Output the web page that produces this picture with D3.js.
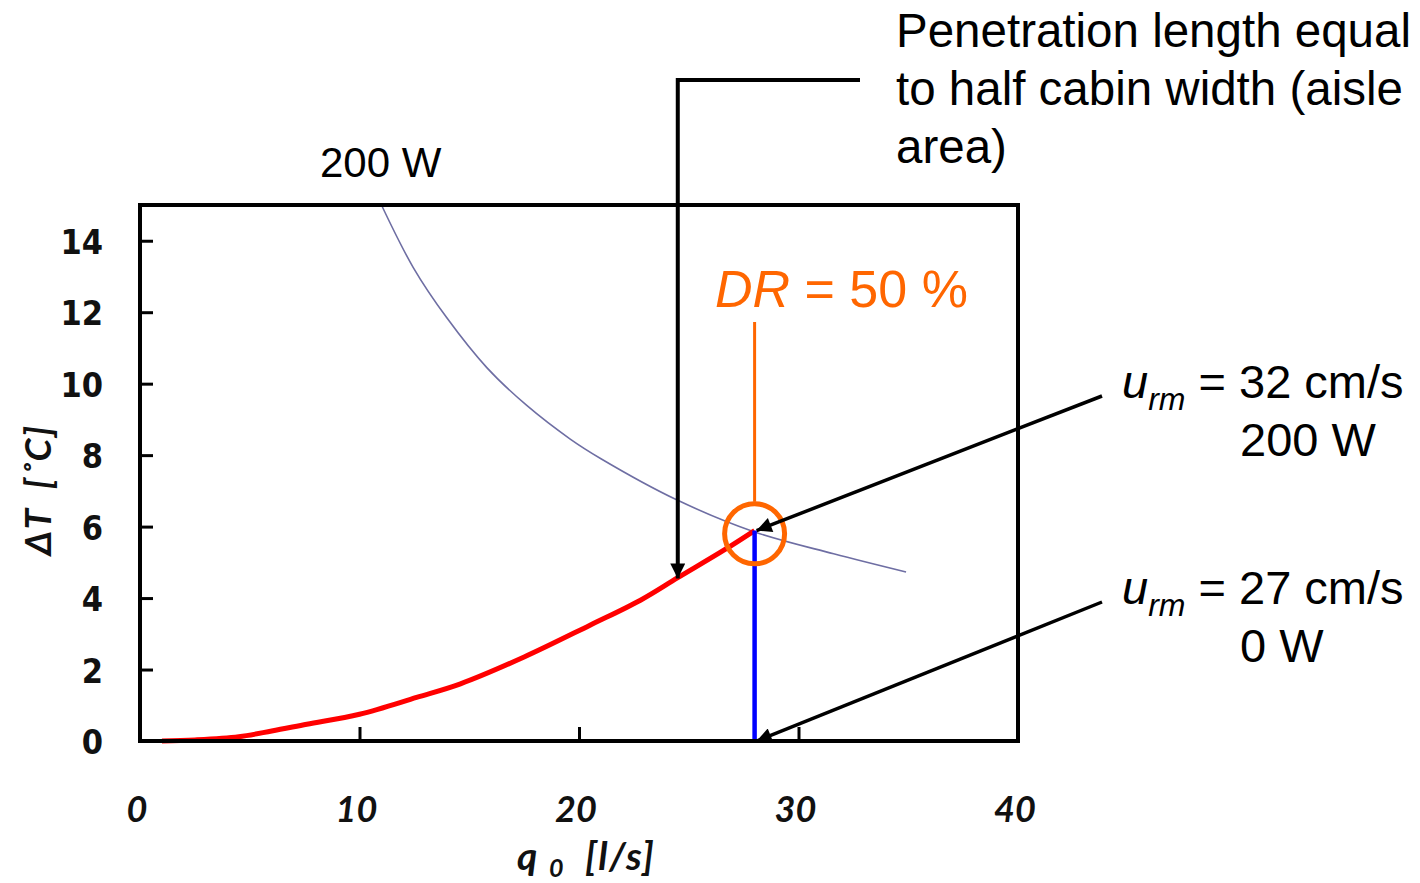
<!DOCTYPE html>
<html>
<head>
<meta charset="utf-8">
<script src="https://cdn.jsdelivr.net/npm/d3@7"></script>
<style>
  html, body { margin: 0; padding: 0; background: #fff; }
  svg { display: block; }
</style>
</head>
<body>
<svg id="chart" width="1420" height="883"></svg>
<script>
// ── Data ─────────────────────────────────────────────────────────────────────
// red: ΔT of the jet at penetration = half cabin width, vs supply flow q0
const redQ = [1.0, 2.5, 4.5, 6.0, 7.6, 10.0, 12.6, 14.6, 17.5, 20.5, 22.8, 24.5, 26.6, 28.0];
const redT = [0.0, 0.03, 0.12, 0.28, 0.47, 0.75, 1.22, 1.6, 2.35, 3.24, 3.94, 4.57, 5.34, 5.89];

// thin slate curve: 200 W heat load
const loadQ = [11.0, 12.45, 13.97, 15.8, 17.62, 19.6, 21.0, 24.45, 28.0, 31.6, 34.9];
const loadT = [15.0, 13.25, 11.85, 10.45, 9.39, 8.45, 7.9, 6.75, 5.85, 5.24, 4.73];

// DR = 50 % point
const drQ = 28.0;
const drT = 5.89;
const elbowQ = 24.5, elbowT = 4.55;

const xTicks = [0, 10, 20, 30, 40];
const yTicks = [0, 2, 4, 6, 8, 10, 12, 14];

// ── Layout ───────────────────────────────────────────────────────────────────
const svg = d3.select('#chart');
const x = d3.scaleLinear().domain([0, 40]).range([140, 1018]);
const y = d3.scaleLinear().domain([0, 15]).range([741, 205]);

const SANS = '"Liberation Sans", Arial, sans-serif';
const CAL  = 'Lato, "Open Sans", sans-serif';
const ORANGE = '#ff6600';

// arrowhead
svg.append('defs').append('marker')
  .attr('id', 'head')
  .attr('viewBox', '0 0 10 10')
  .attr('refX', 10).attr('refY', 5)
  .attr('markerUnits', 'userSpaceOnUse')
  .attr('markerWidth', 17).attr('markerHeight', 15)
  .attr('orient', 'auto')
  .append('path').attr('d', 'M0,0 L10,5 L0,10 Z').attr('fill', '#000');

// ── Curves ───────────────────────────────────────────────────────────────────
const line = d3.line()
  .x(d => x(d[0]))
  .y(d => y(d[1]))
  .curve(d3.curveCatmullRom.alpha(0.5));

svg.append('path')
  .datum(loadQ.map((q, i) => [q, loadT[i]]))
  .attr('d', line)
  .attr('fill', 'none')
  .attr('stroke', '#6e6ea3')
  .attr('stroke-width', 1.6);

svg.append('path')
  .datum(redQ.map((q, i) => [q, redT[i]]))
  .attr('d', line)
  .attr('fill', 'none')
  .attr('stroke', '#ff0000')
  .attr('stroke-width', 5);

svg.append('line')
  .attr('x1', x(drQ)).attr('x2', x(drQ))
  .attr('y1', y(0)).attr('y2', y(drT))
  .attr('stroke', '#0000ff')
  .attr('stroke-width', 4.5);

// ── Frame + ticks ────────────────────────────────────────────────────────────
svg.append('g')
  .attr('transform', `translate(${x(0)},0)`)
  .call(d3.axisLeft(y).tickValues(yTicks).tickSize(-13).tickFormat(''))
  .call(g => g.select('.domain').remove())
  .call(g => g.selectAll('line').attr('stroke', '#000').attr('stroke-width', 3));

svg.append('g')
  .attr('transform', `translate(0,${y(0)})`)
  .call(d3.axisBottom(x).tickValues([10, 20, 30]).tickSize(-14).tickFormat(''))
  .call(g => g.select('.domain').remove())
  .call(g => g.selectAll('line').attr('stroke', '#000').attr('stroke-width', 3));

svg.append('rect')
  .attr('x', x(0)).attr('y', y(15))
  .attr('width', x(40) - x(0)).attr('height', y(0) - y(15))
  .attr('fill', 'none')
  .attr('stroke', '#000')
  .attr('stroke-width', 4);

// y tick labels (bold, Verdana-like, a little condensed)
svg.append('g').selectAll('text')
  .data(yTicks)
  .join('text')
  .attr('transform', d => `translate(103,${y(d) + 13}) scale(0.9,1)`)
  .attr('text-anchor', 'end')
  .attr('font-family', '"DejaVu Sans", Verdana, sans-serif')
  .attr('font-weight', 'bold')
  .attr('font-size', 34)
  .attr('fill', '#111')
  .text(d => d);

// x tick labels (bold italic, Calibri-like)
svg.append('g').selectAll('text')
  .data(xTicks)
  .join('text')
  .attr('x', d => x(d) - 3)
  .attr('y', 822)
  .attr('text-anchor', 'middle')
  .attr('font-family', CAL)
  .attr('font-weight', 'bold')
  .attr('font-style', 'italic')
  .attr('font-size', 36)
  .attr('fill', '#111')
  .text(d => d);

// axis titles
const xt = svg.append('text')
  .attr('x', 517).attr('y', 870)
  .attr('font-family', CAL)
  .attr('font-weight', 'bold')
  .attr('font-style', 'italic')
  .attr('font-size', 39)
  .attr('letter-spacing', 1.5)
  .attr('fill', '#111');
xt.append('tspan').text('q\u00A0');
xt.append('tspan').attr('font-size', 25).attr('dy', 7).text('0');
xt.append('tspan').attr('dy', -7).text('\u00A0\u00A0[l/s]');

svg.append('text')
  .attr('transform', 'translate(51,490) rotate(-90)')
  .attr('text-anchor', 'middle')
  .attr('font-family', CAL)
  .attr('font-weight', 'bold')
  .attr('font-style', 'italic')
  .attr('font-size', 37)
  .attr('letter-spacing', 1.5)
  .attr('fill', '#111')
  .text('\u0394T\u00A0\u00A0[\u02DAC]');

// ── Annotations ──────────────────────────────────────────────────────────────
svg.append('text')
  .attr('x', 320).attr('y', 177)
  .attr('font-family', SANS)
  .attr('font-size', 42)
  .attr('fill', '#000')
  .text('200 W');

// DR = 50 % marker
svg.append('line')
  .attr('x1', x(drQ)).attr('x2', x(drQ))
  .attr('y1', 322).attr('y2', y(5.8) - 32)
  .attr('stroke', ORANGE)
  .attr('stroke-width', 3);

svg.append('circle')
  .attr('cx', x(drQ)).attr('cy', y(5.8))
  .attr('r', 30)
  .attr('fill', 'none')
  .attr('stroke', ORANGE)
  .attr('stroke-width', 5);

const dr = svg.append('text')
  .attr('x', 715).attr('y', 307)
  .attr('font-family', SANS)
  .attr('font-size', 52)
  .attr('fill', ORANGE);
dr.append('tspan').attr('font-style', 'italic').text('DR');
dr.append('tspan').text(' = 50 %');

// penetration length note
const pen = ['Penetration length equal', 'to half cabin width (aisle', 'area)'];
svg.append('g').selectAll('text')
  .data(pen)
  .join('text')
  .attr('x', 896)
  .attr('y', (d, i) => 47 + i * 58)
  .attr('font-family', SANS)
  .attr('font-size', 47.5)
  .attr('fill', '#000')
  .text(d => d);

svg.append('path')
  .attr('d', `M860,80 H${x(elbowQ)} V${y(elbowT)}`)
  .attr('fill', 'none')
  .attr('stroke', '#000')
  .attr('stroke-width', 4)
  .attr('marker-end', 'url(#head)');

// u_rm labels with arrows
const urm = [
  { speed: '32 cm/s', load: '200 W', base: 398, tq: drQ, tt: drT },
  { speed: '27 cm/s', load: '0 W',   base: 604, tq: drQ, tt: 0 },
];

urm.forEach(d => {
  svg.append('line')
    .attr('x1', 1102).attr('y1', d.base - 2)
    .attr('x2', x(d.tq) + 2).attr('y2', y(d.tt))
    .attr('stroke', '#000')
    .attr('stroke-width', 3.5)
    .attr('marker-end', 'url(#head)');

  const t = svg.append('text')
    .attr('x', 1122).attr('y', d.base)
    .attr('font-family', SANS)
    .attr('font-size', 47)
    .attr('fill', '#000');
  t.append('tspan').attr('font-style', 'italic').text('u');
  t.append('tspan').attr('font-style', 'italic').attr('font-size', 32).attr('dy', 12).text('rm');
  t.append('tspan').attr('dy', -12).text(' = ' + d.speed);

  svg.append('text')
    .attr('x', 1240).attr('y', d.base + 58)
    .attr('font-family', SANS)
    .attr('font-size', 47)
    .attr('fill', '#000')
    .text(d.load);
});
</script>
</body>
</html>
